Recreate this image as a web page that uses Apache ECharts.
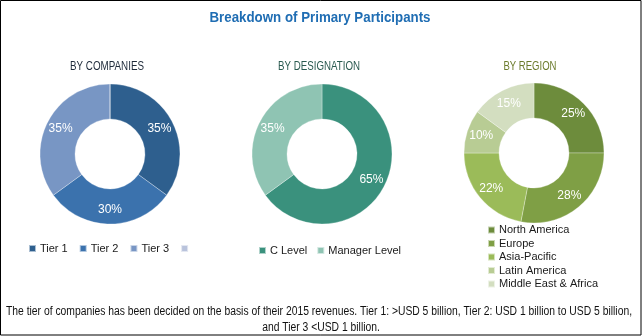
<!DOCTYPE html>
<html><head><meta charset="utf-8">
<script src="https://cdn.jsdelivr.net/npm/echarts@6/dist/echarts.min.js"></script>
<style>html,body{margin:0;padding:0;background:#fff}#c{width:642px;height:336px}</style>
</head><body><div id="c"></div>
<script>
const companyNames = ['Tier 1', 'Tier 2', 'Tier 3', ' '];
const companyValues = [35, 30, 35, 0];
const designationNames = ['C Level', 'Manager Level'];
const designationValues = [65, 35];
const regionNames = ['North America', 'Europe', 'Asia-Pacific', 'Latin America', 'Middle East & Africa'];
const regionValues = [25, 28, 22, 10, 15];

const titleText = 'Breakdown of Primary Participants';
const subTitles = ['BY COMPANIES', 'BY DESIGNATION', 'BY REGION'];
const footLines = ['The tier of companies has been decided on the basis of their 2015 revenues. Tier 1: >USD 5 billion, Tier 2: USD 1 billion to USD 5 billion,', 'and Tier 3 <USD 1 billion.'];

const companyColors = ['#2e5f8e', '#3b72ad', '#7896c4', '#b9c3dc'];
const designationColors = ['#3a917d', '#8fc4b3'];
const regionColors = ['#6d8c3c', '#7f9f45', '#9bbb59', '#b8cc94', '#d3dec0'];

const sans = '"Liberation Sans", Arial, sans-serif';

const ctx = document.createElement('canvas').getContext('2d');
function fitScale(text, font, target) {
  ctx.font = font;
  return target / ctx.measureText(text).width;
}

function stext(text, cx, cy, size, weight, color, target, scaleOverride) {
  const font = weight + ' ' + size + 'px ' + sans;
  const s = scaleOverride || fitScale(text, font, target);
  return {
    type: 'text', x: cx, y: cy, scaleX: s, silent: true,
    style: { text: text, font: font, fill: color, align: 'center', verticalAlign: 'middle' }
  };
}

function mk(names, vals, colors) {
  return names.map((n, i) => ({
    name: n, value: vals[i],
    itemStyle: { color: colors[i] },
    label: { show: vals[i] > 0 }
  }));
}

const pieBase = {
  type: 'pie', radius: [35, 70], startAngle: 90, clockwise: true,
  avoidLabelOverlap: false, silent: true,
  itemStyle: { borderColor: 'rgba(255,255,255,0.6)', borderWidth: 0.5 },
  label: { position: 'inside', formatter: '{d}%', color: '#fff', fontSize: 12, fontFamily: sans },
  labelLine: { show: false }
};

const footScale = fitScale(footLines[0], 'normal 12px ' + sans, 626);

const legendText = { color: '#1a1a1a', fontSize: 11, fontFamily: sans, lineHeight: 13, padding: [0, 0, 0, -1] };

const chart = echarts.init(document.getElementById('c'), null, { renderer: 'canvas' });
chart.setOption({
  animation: false,
  graphic: [
    { type: 'rect', shape: { x: 0.5, y: 0.5, width: 640.5, height: 334.5 }, style: { fill: 'none', stroke: '#000', lineWidth: 1 } },
    stext(titleText, 320, 18, 14, 'bold', '#1f6db3', 221),
    stext(subTitles[0], 107, 66, 13, 'normal', '#1e2a3a', 74),
    stext(subTitles[1], 319, 66, 13, 'normal', '#2a5a50', 82),
    stext(subTitles[2], 530, 66, 13, 'normal', '#6b7b2c', 53),
    stext(footLines[0], 319, 312, 12, 'normal', '#111', 626),
    stext(footLines[1], 321, 328, 12, 'normal', '#111', 0, footScale)
  ],
  legend: [
    { data: companyNames, left: 28, top: 242, padding: 0, itemWidth: 7, itemHeight: 7, itemGap: 11, icon: 'rect', textStyle: legendText },
    { data: designationNames, left: 258, top: 244, padding: 0, itemWidth: 7, itemHeight: 7, itemGap: 9, icon: 'rect', textStyle: legendText },
    { data: regionNames, left: 487, top: 223.5, padding: 0, orient: 'vertical', itemWidth: 7, itemHeight: 7, itemGap: 0.5, icon: 'rect', textStyle: legendText }
  ],
  series: [
    Object.assign({}, pieBase, { center: [110, 154], data: mk(companyNames, companyValues, companyColors) }),
    Object.assign({}, pieBase, { center: [322, 154], data: mk(designationNames, designationValues, designationColors) }),
    Object.assign({}, pieBase, { center: [534, 153], data: mk(regionNames, regionValues, regionColors) })
  ]
});
</script></body></html>
